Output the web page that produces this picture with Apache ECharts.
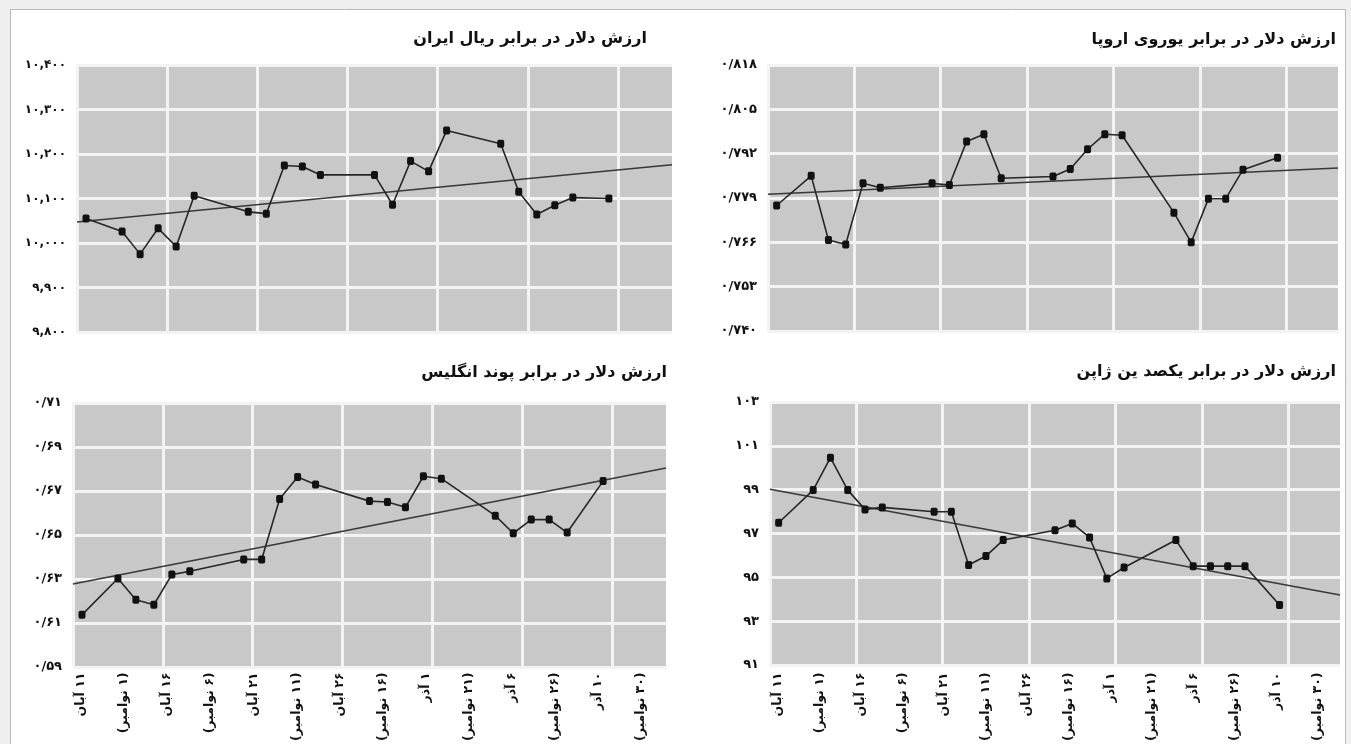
<!DOCTYPE html>
<html><head><meta charset="utf-8">
<script src="https://cdn.jsdelivr.net/npm/echarts@6/dist/echarts.min.js"></script>
<style>html,body{margin:0;padding:0;background:#efefef;}#c{width:1351px;height:744px;direction:rtl;}</style>
</head><body><div id="c" dir="rtl"></div>
<script>
// observation days (November, day of month)
const days = [1,3,4,5,6,7,10,11,12,13,14,17,18,19,20,21,24,25,26,27,28,30];
// dollar vs Iranian rial
const irr = [10055,10026,9975,10033,9992,10106,10070,10066,10174,10172,10153,10153,10086,10184,10161,10253,10223,10115,10064,10085,10102,10100];
// dollar vs euro
const eur = [0.7768,0.7855,0.7667,0.7654,0.7833,0.7820,0.7833,0.7828,0.7956,0.7977,0.7848,0.7853,0.7875,0.7933,0.7977,0.7974,0.7747,0.7660,0.7788,0.7788,0.7873,0.7908];
// dollar vs pound
const gbp = [0.6137,0.6302,0.6206,0.6183,0.6320,0.6335,0.6389,0.6389,0.6664,0.6764,0.6730,0.6654,0.6650,0.6626,0.6767,0.6756,0.6588,0.6508,0.6570,0.6570,0.6511,0.6745];
// dollar vs 100 yen
const jpy = [97.49,98.98,100.46,98.98,98.10,98.19,97.99,97.99,95.56,95.97,96.70,97.15,97.46,96.82,94.95,95.45,96.70,95.51,95.51,95.51,95.51,93.74];
// trend lines (start / end of the date axis)
const trendDays = [0.5, 33.5];
const trendIrr = [10047, 10176];
const trendEur = [0.7801, 0.7878];
const trendGbp = [0.6277, 0.6805];
const trendJpy = [99.02, 94.19];
// titles
const titles = ['ارزش دلار در برابر ریال ایران','ارزش دلار در برابر یوروی اروپا','ارزش دلار در برابر پوند انگلیس','ارزش دلار در برابر یکصد ین ژاپن'];
// tick labels
const yIrr = ['۹,۸۰۰','۹,۹۰۰','۱۰,۰۰۰','۱۰,۱۰۰','۱۰,۲۰۰','۱۰,۳۰۰','۱۰,۴۰۰'];
const yEur = ['۰/۷۴۰','۰/۷۵۳','۰/۷۶۶','۰/۷۷۹','۰/۷۹۲','۰/۸۰۵','۰/۸۱۸'];
const yGbp = ['۰/۵۹','۰/۶۱','۰/۶۳','۰/۶۵','۰/۶۷','۰/۶۹','۰/۷۱'];
const yJpy = ['۹۱','۹۳','۹۵','۹۷','۹۹','۱۰۱','۱۰۳'];
const xLabels = ['۱۱ آبان','(۱ نوامبر)','۱۶ آبان','(۶ نوامبر)','۲۱ آبان','(۱۱ نوامبر)','۲۶ آبان','(۱۶ نوامبر)','۱ آذر','(۲۱ نوامبر)','۶ آذر','(۲۶ نوامبر)','۱۰ آذر','(۳۰ نوامبر)'];

const FONT = 'DejaVu Sans';
const chart = echarts.init(document.getElementById('c'), null, {renderer:'canvas'});

const panels = [
  {grid:{left:77,top:65,width:595,height:267}, title:{right:699,top:26}, y:{min:9800,max:10400,interval:100,labels:yIrr,fs:12}, data:irr, trend:trendIrr},
  {grid:{left:768,top:65,width:570,height:266}, title:{right:10,top:27}, y:{min:0.740,max:0.818,interval:0.013,labels:yEur,fs:13}, data:eur, trend:trendEur},
  {grid:{left:73,top:403,width:593,height:264}, title:{right:679,top:360}, y:{min:0.59,max:0.71,interval:0.02,labels:yGbp,fs:13}, data:gbp, trend:trendGbp, labelGrid:{left:81,top:403,width:560,height:264}},
  {grid:{left:770,top:402,width:570,height:263}, title:{right:10,top:359}, y:{min:91,max:103,interval:2,labels:yJpy,fs:13}, data:jpy, trend:trendJpy, labelGrid:{left:778,top:402,width:540,height:263}}
];

const grid = [], xAxis = [], yAxis = [], series = [], title = [];
panels.forEach((p, i) => {
  const gi = grid.length;
  grid.push(Object.assign({show:true, backgroundColor:'#c8c8c8', borderWidth:0, containLabel:false}, p.grid));
  title.push({text:titles[i], right:p.title.right, top:p.title.top,
    textStyle:{fontFamily:FONT, fontWeight:'bold', fontSize:16, color:'#111'}});
  const xi = xAxis.length;
  xAxis.push({type:'value', gridIndex:gi, min:0.5, max:33.5, interval:5,
    axisLine:{show:false}, axisTick:{show:false}, axisLabel:{show:false},
    splitLine:{show:true, showMaxLine:false, lineStyle:{color:'#f3f3f3', width:3}}});
  const yi = yAxis.length;
  const yc = p.y;
  yAxis.push({type:'value', gridIndex:gi, min:yc.min, max:yc.max, interval:yc.interval,
    axisLine:{show:false}, axisTick:{show:false},
    splitLine:{show:true, lineStyle:{color:'#f3f3f3', width:3}},
    axisLabel:{margin:11, fontFamily:FONT, fontWeight:'bold', fontSize:yc.fs, color:'#111',
      formatter:(v)=>yc.labels[Math.round((v - yc.min)/yc.interval)] || ''}});
  series.push({type:'line', xAxisIndex:xi, yAxisIndex:yi, data:p.trend.map((v,k)=>[trendDays[k], v]),
    showSymbol:false, silent:true, lineStyle:{color:'#383838', width:1.5}, z:3});
  series.push({type:'line', xAxisIndex:xi, yAxisIndex:yi, data:p.data.map((v,k)=>[days[k], v]),
    symbol:'roundRect', symbolSize:[7,8], itemStyle:{color:'#111'},
    lineStyle:{color:'#262626', width:1.6}, z:4, animation:false});
  if (p.labelGrid) {
    const lg = grid.length;
    grid.push(Object.assign({show:false}, p.labelGrid));
    xAxis.push({type:'value', gridIndex:lg, min:0, max:13, interval:1, position:'bottom',
      axisLine:{show:false}, axisTick:{show:false}, splitLine:{show:false},
      axisLabel:{rotate:90, margin:11, fontFamily:FONT, fontWeight:'bold', fontSize:12.5, color:'#111',
        showMinLabel:true, showMaxLabel:true, hideOverlap:false,
        formatter:(v)=>xLabels[Math.round(v)] || ''}});
    yAxis.push({type:'value', gridIndex:lg, show:false});
  }
});

chart.setOption({
  animation:false,
  backgroundColor:'#efefef',
  graphic:[{type:'rect', z:-10, shape:{x:10.5, y:9.5, width:1335, height:745}, style:{fill:'#ffffff', stroke:'#b8b8b8', lineWidth:1}}],
  title, grid, xAxis, yAxis, series
});
</script></body></html>
